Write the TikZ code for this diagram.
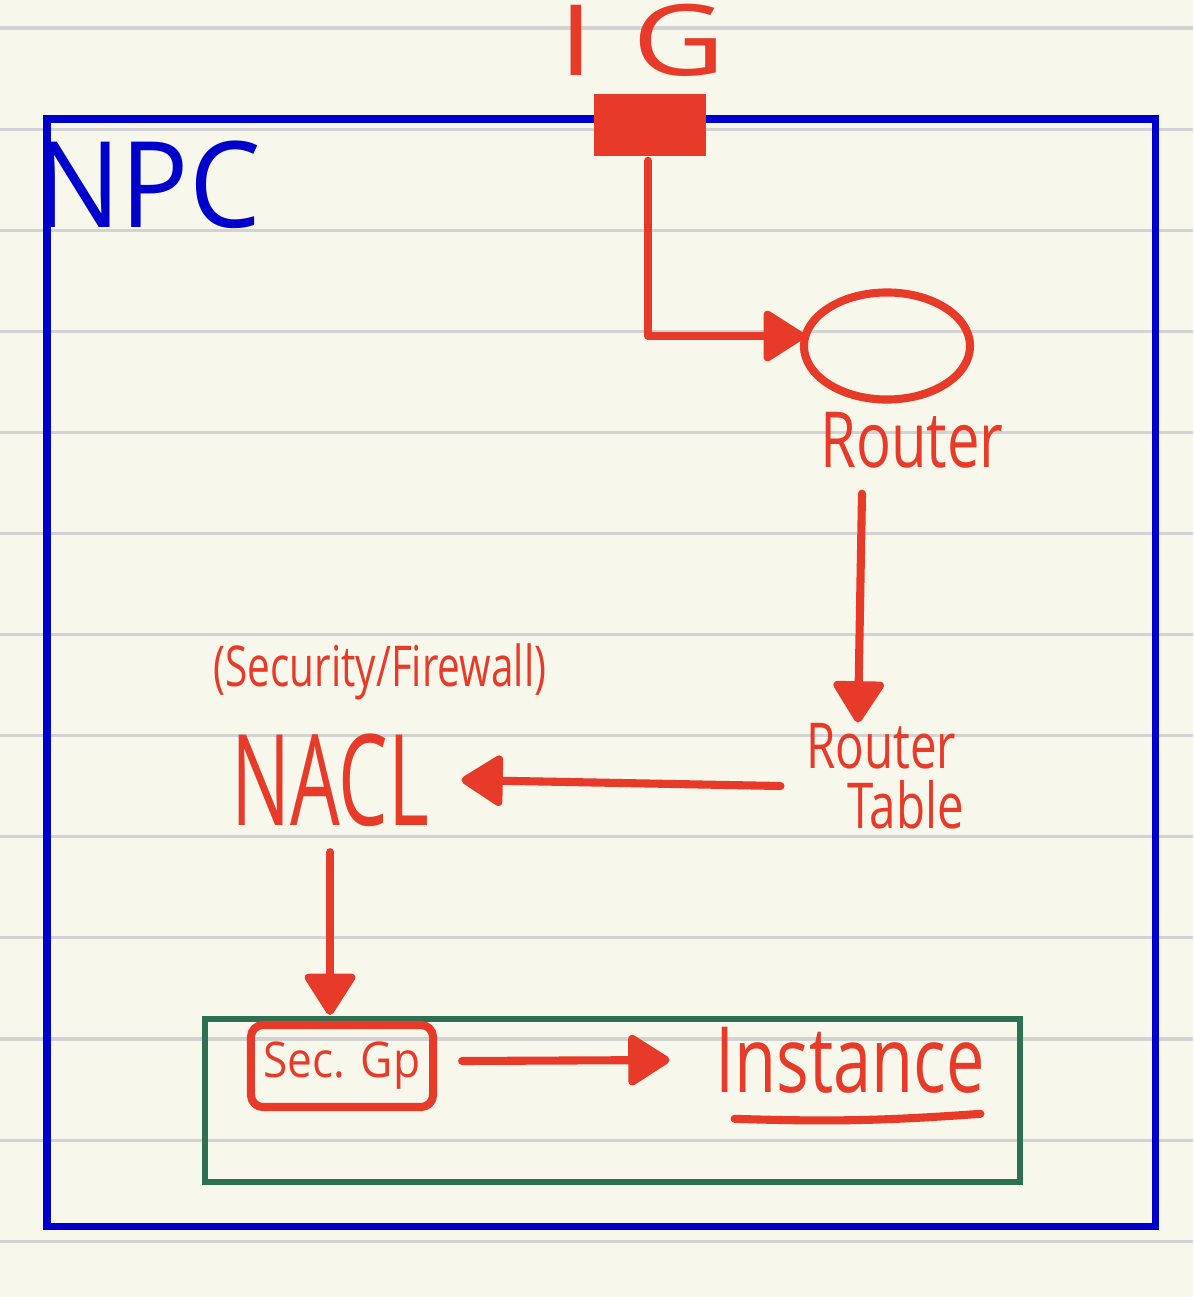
\documentclass[tikz,border=0pt]{standalone}
\usepackage{fontspec}
\usepackage{graphicx}
\setmainfont{Open Sans}
\usetikzlibrary{arrows.meta,shapes.geometric}
\definecolor{paper}{HTML}{F7F7EB}
\definecolor{rulegray}{HTML}{D2D2D2}
\definecolor{ink}{HTML}{E83A28}
\definecolor{vpcblue}{HTML}{0000CC}
\definecolor{subgreen}{HTML}{2E7052}
\newcommand{\fs}[1]{\fontsize{#1}{#1}\selectfont}
\newcommand{\nar}[2]{\scalebox{#1}[1]{#2}}
\begin{document}
\begin{tikzpicture}[x=0.01cm,y=-0.01cm,
  redline/.style={draw=ink, line width=2.3pt, line cap=round, line join=round},
  flow/.style={redline, -{Triangle[length=0.45cm,width=0.55cm,round]}},
  lbl/.style={text=ink, inner sep=0pt},
]
\fill[paper] (0,0) rectangle (1193,1297);
\useasboundingbox (0,0) rectangle (1193,1297);
\foreach \k in {0,...,12} \draw[rulegray, line width=0.9pt] (0,28+101.1*\k) -- (1193,28+101.1*\k);

% containers
\node[draw=vpcblue, line width=2pt, minimum width=11.08cm, minimum height=11.07cm, inner sep=0pt, outer sep=0pt, anchor=north west] (vpc) at (47,119) {};
\node[draw=subgreen, line width=1.7pt, minimum width=8.15cm, minimum height=1.63cm, inner sep=0pt, outer sep=0pt, anchor=north west] (subnet) at (205,1019) {};

% nodes
\node[fill=ink, draw=ink, line width=1pt, minimum width=1.08cm, minimum height=0.58cm, inner sep=0pt] (ig) at (650,125) {};
\node[lbl, font=\fs{28pt}] (iglbl) at (642,40) {\nar{1.3}{I\hspace{0.3em}G}};
\node[text=vpcblue, inner sep=0pt, font=\fs{34pt}] (npc) at (148,185) {\nar{0.95}{NPC}};
\node[ellipse, redline, minimum width=1.66cm, minimum height=1.07cm, inner sep=0pt] (router) at (887,346) {};
\node[lbl, font=\fs{22pt}] (routerlbl) at (912,440) {\nar{0.75}{Router}};
\node[lbl, font=\fs{18pt}, align=left] (rtable) at (885,776) {\nar{0.75}{Router}\\[-1pt]\hspace{0.65em}\nar{0.75}{Table}};
\node[lbl, font=\fs{16pt}] (sec) at (380,672) {\nar{0.72}{(Security/Firewall)}};
\node[lbl, font=\fs{36pt}] (nacl) at (330,780) {\nar{0.62}{NACL}};
\node[redline, rounded corners=0.12cm, minimum width=1.82cm, minimum height=0.82cm, inner sep=0pt, text=ink, font=\fs{14pt}] (secgp) at (342,1066) {\nar{0.9}{Sec. Gp}};
\node[lbl, font=\fs{26pt}] (instance) at (850,1060) {\nar{0.75}{Instance}};

% connectors
\draw[flow] ([shift={(-2,5)}]ig.south) |- ([shift={(5,-10)}]router.west);
\draw[flow] ([shift={(-50,25)}]routerlbl.south) -- ([shift={(-27,0)}]rtable.north);
\draw[flow] ([shift={(-25,10)}]rtable.west) -- ([shift={(32,0)}]nacl.east);
\draw[flow, shorten <=0.25cm] (nacl.south) -- ([shift={(0,-6)}]secgp.north -| nacl.south);
\draw[flow] ([shift={(25,-5)}]secgp.east) -- ([shift={(-45,0)}]instance.west);
\draw[redline] ([shift={(20,25)}]instance.south west) to[bend right=3] ([shift={(-5,20)}]instance.south east);
\end{tikzpicture}
\end{document}
